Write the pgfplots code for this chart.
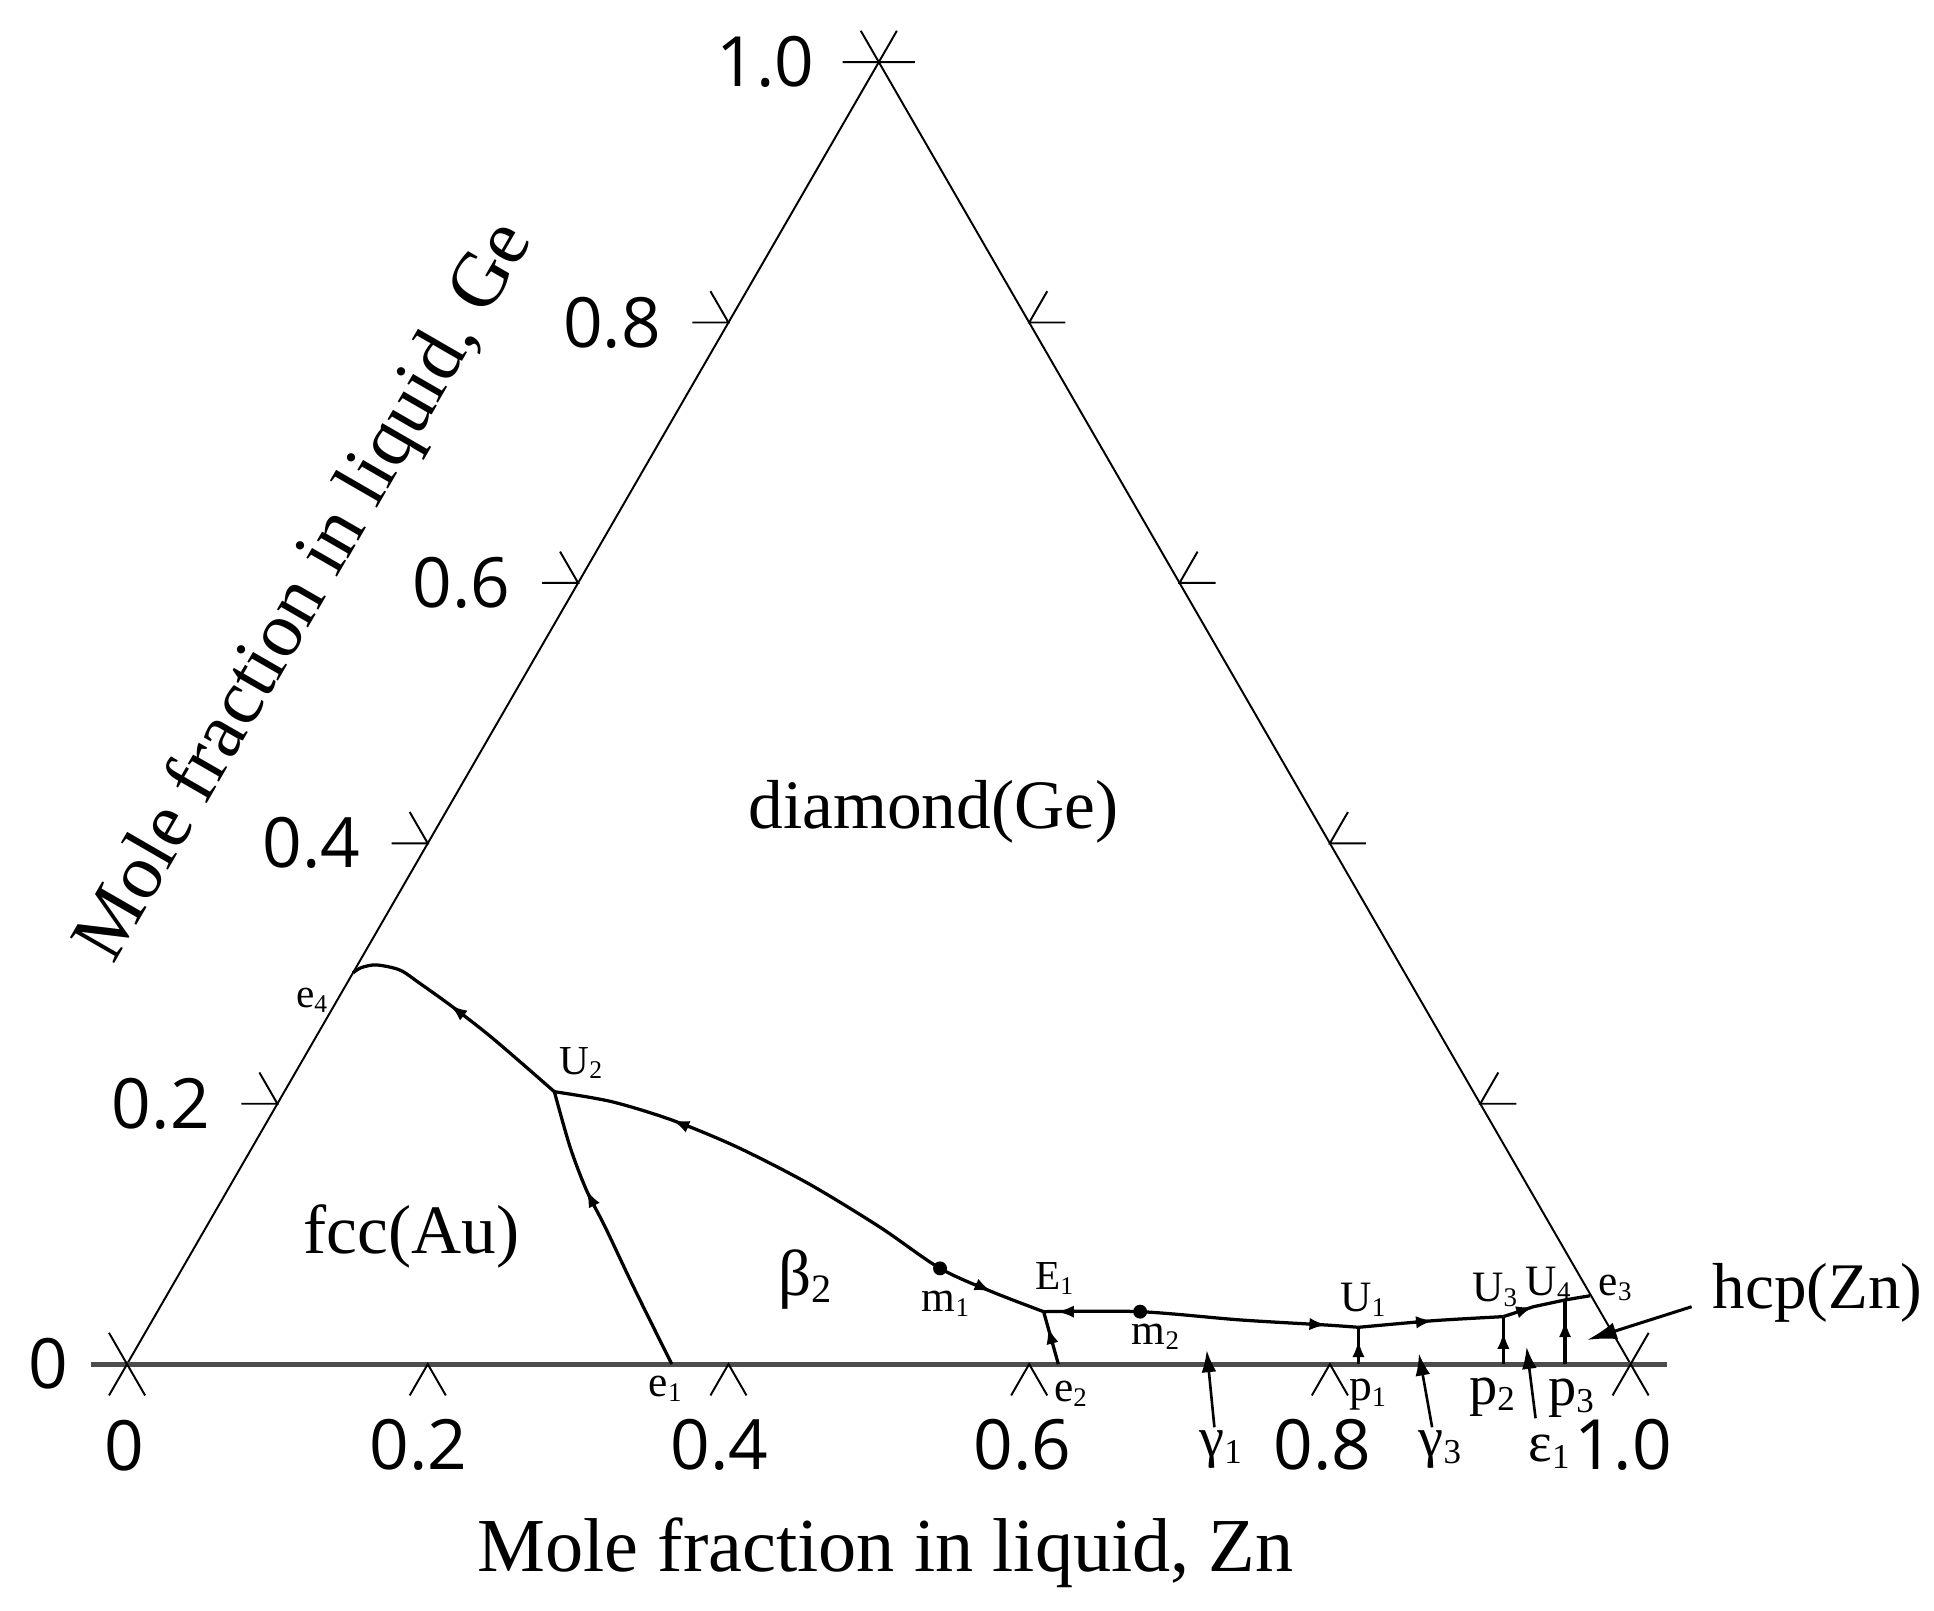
\documentclass[border=0pt]{standalone}
\usepackage{fontspec}
\setmainfont{Liberation Serif}
\newfontfamily\tickfont{Open Sans}
\usepackage{graphicx}
\usepackage{pgfplots}
\pgfplotsset{compat=1.18}
\usetikzlibrary{arrows.meta}
\newcommand{\sbs}[1]{\raisebox{-0.25ex}{\scalebox{0.62}{#1}}}
\newcommand{\fs}[1]{\fontsize{#1}{#1}\selectfont}
\begin{document}
\begin{tikzpicture}[every node/.append style={inner sep=0pt, outer sep=0pt}]
\begin{axis}[
  scale only axis, width=15.68cm, height=13.06cm,
  xmin=-0.0845, xmax=1.2018, ymin=-0.1641, ymax=0.9073,
  axis lines=none, clip=false,
  tk/.style={black, line width=0.45pt},
  cv/.style={black, line width=0.75pt},
  sa/.style={black, line width=0.75pt, -{Latex[length=1.4mm,width=1.0mm]}},
  ba/.style={black, line width=0.6pt, -{Latex[length=1.8mm,width=1.2mm]}},
]
\path (rel axis cs:0,0) rectangle (rel axis cs:1,1);
% triangle
\addplot[tk] coordinates {(0,0) (0.5,0.8660) (1,0)};
\addplot[black!70, line width=1.1pt] coordinates {(-0.024,0) (1.024,0)};
% bottom ticks
\addplot[tk] coordinates {(-0.012,-0.0208) (0,0) (0.012,-0.0208)};
\addplot[tk] coordinates {(0.188,-0.0208) (0.2,0) (0.212,-0.0208)};
\addplot[tk] coordinates {(0.388,-0.0208) (0.4,0) (0.412,-0.0208)};
\addplot[tk] coordinates {(0.588,-0.0208) (0.6,0) (0.612,-0.0208)};
\addplot[tk] coordinates {(0.788,-0.0208) (0.8,0) (0.812,-0.0208)};
\addplot[tk] coordinates {(0.988,-0.0208) (1,0) (1.012,-0.0208)};
% left ticks
\addplot[tk] coordinates {(0,0) (-0.012,0.0208)};
\addplot[tk] coordinates {(0.076,0.1732) (0.1,0.1732) (0.088,0.1940)};
\addplot[tk] coordinates {(0.176,0.3464) (0.2,0.3464) (0.188,0.3672)};
\addplot[tk] coordinates {(0.276,0.5196) (0.3,0.5196) (0.288,0.5404)};
\addplot[tk] coordinates {(0.376,0.6928) (0.4,0.6928) (0.388,0.7136)};
\addplot[tk] coordinates {(0.476,0.8660) (0.5,0.8660) (0.488,0.8868)};
% right ticks
\addplot[tk] coordinates {(1,0) (1.012,0.0208)};
\addplot[tk] coordinates {(0.924,0.1732) (0.9,0.1732) (0.912,0.1940)};
\addplot[tk] coordinates {(0.824,0.3464) (0.8,0.3464) (0.812,0.3672)};
\addplot[tk] coordinates {(0.724,0.5196) (0.7,0.5196) (0.712,0.5404)};
\addplot[tk] coordinates {(0.624,0.6928) (0.6,0.6928) (0.612,0.7136)};
\addplot[tk] coordinates {(0.524,0.8660) (0.5,0.8660) (0.512,0.8868)};
% tick labels
\node[anchor=east, font=\tickfont\fs{16}] at (axis cs:-0.039,0) {0};
\node[anchor=east, font=\tickfont\fs{16}] at (axis cs:0.055,0.1732) {0.2};
\node[anchor=east, font=\tickfont\fs{16}] at (axis cs:0.155,0.3464) {0.4};
\node[anchor=east, font=\tickfont\fs{16}] at (axis cs:0.255,0.5196) {0.6};
\node[anchor=east, font=\tickfont\fs{16}] at (axis cs:0.355,0.6928) {0.8};
\node[anchor=east, font=\tickfont\fs{16}] at (axis cs:0.457,0.8660) {1.0};
\node[font=\tickfont\fs{16}] at (axis cs:-0.002,-0.054) {0};
\node[font=\tickfont\fs{16}] at (axis cs:0.194,-0.054) {0.2};
\node[font=\tickfont\fs{16}] at (axis cs:0.394,-0.054) {0.4};
\node[font=\tickfont\fs{16}] at (axis cs:0.5955,-0.054) {0.6};
\node[font=\tickfont\fs{16}] at (axis cs:0.795,-0.054) {0.8};
\node[font=\tickfont\fs{16}] at (axis cs:0.995,-0.054) {1.0};
% titles
\node[anchor=base, font=\fs{17.6}] at (axis cs:0.5045,-0.1381) {Mole fraction in liquid, Zn};
\node[rotate=60, font=\fs{18}] at (axis cs:0.1195,0.5130) {Mole fraction in liquid, Ge};
% curves
\addplot[cv, smooth] coordinates {(0.1503,0.2603) (0.1560,0.2638) (0.1660,0.2655) (0.1815,0.2621) (0.1948,0.2532) (0.2148,0.2389) (0.2392,0.2200) (0.2614,0.2011) (0.2842,0.1812)};
\addplot[cv, smooth] coordinates {(0.2842,0.1812) (0.3222,0.1746) (0.3625,0.1623) (0.4053,0.1446) (0.4528,0.1203) (0.5003,0.0914) (0.5407,0.0637) (0.5751,0.0482) (0.6096,0.0349)};
\addplot[cv, smooth] coordinates {(0.3623,0) (0.3368,0.0515) (0.3179,0.0914) (0.3055,0.1158) (0.2946,0.1446) (0.2842,0.1812)};
\addplot[cv, smooth] coordinates {(0.6096,0.0349) (0.6738,0.0349) (0.7404,0.0294) (0.7979,0.0260) (0.8190,0.0245)};
\addplot[cv, smooth] coordinates {(0.8190,0.0245) (0.8688,0.0289) (0.9154,0.0316)};
\addplot[cv] coordinates {(0.9154,0.0316) (0.9354,0.0382) (0.9564,0.0427) (0.9730,0.0455)};
\addplot[cv] coordinates {(0.6194,0) (0.6096,0.0349)};
\addplot[cv] coordinates {(0.8190,0) (0.8190,0.0245)};
\addplot[cv] coordinates {(0.9154,0) (0.9154,0.0316)};
\addplot[cv] coordinates {(0.9564,0) (0.9564,0.0427)};
% small arrows
\addplot[sa] coordinates {(0.2243,0.2316) (0.2148,0.2389)};
\addplot[sa] coordinates {(0.3736,0.1577) (0.3625,0.1623)};
\addplot[sa] coordinates {(0.5642,0.0531) (0.5751,0.0482)};
\addplot[sa] coordinates {(0.3109,0.1051) (0.3055,0.1158)};
\addplot[sa] coordinates {(0.6303,0.0349) (0.6183,0.0349)};
\addplot[sa] coordinates {(0.7859,0.0267) (0.7979,0.0260)};
\addplot[sa] coordinates {(0.8568,0.0278) (0.8688,0.0289)};
\addplot[sa] coordinates {(0.9240,0.0344) (0.9354,0.0382)};
\addplot[sa] coordinates {(0.6156,0.0133) (0.6124,0.0249)};
\addplot[sa] coordinates {(0.8190,0.0040) (0.8190,0.0161)};
\addplot[sa] coordinates {(0.9154,0.0090) (0.9154,0.0216)};
\addplot[sa] coordinates {(0.9564,0.0170) (0.9564,0.0294)};
% dots
\addplot[only marks, mark=*, mark size=1.4pt, black] coordinates {(0.5407,0.0637) (0.6738,0.0349)};
% big arrows
\addplot[ba] coordinates {(0.7232,-0.042) (0.7181,0.0094)};
\addplot[ba] coordinates {(0.8680,-0.042) (0.8592,0.0072)};
\addplot[ba] coordinates {(0.9368,-0.036) (0.9308,0.0116)};
\addplot[black, line width=0.7pt, -{Latex[length=2.4mm,width=1.4mm]}] coordinates {(1.0406,0.0382) (0.9711,0.0161)};
% region labels
\node[anchor=base, font=\fs{16}] at (axis cs:0.5363,0.3564) {diamond(Ge)};
\node[anchor=base, font=\fs{16}] at (axis cs:0.1891,0.0737) {fcc(Au)};
\node[anchor=base, font=\fs{15}] at (axis cs:0.451,0.0459) {β\sbs{2}};
\node[anchor=base, font=\fs{15}] at (axis cs:1.1244,0.0372) {hcp(Zn)};
% point labels
\node[font=\fs{9.5}] at (axis cs:0.1228,0.2422) {e\sbs{4}};
\node[font=\fs{9.5}] at (axis cs:0.3019,0.2002) {U\sbs{2}};
\node[font=\fs{10}] at (axis cs:0.5443,0.0404) {m\sbs{1}};
\node[font=\fs{9.5}] at (axis cs:0.6167,0.0571) {E\sbs{1}};
\node[font=\fs{10}] at (axis cs:0.684,0.0183) {m\sbs{2}};
\node[font=\fs{10}] at (axis cs:0.822,0.0427) {U\sbs{1}};
\node[font=\fs{10}] at (axis cs:0.9096,0.0493) {U\sbs{3}};
\node[font=\fs{10}] at (axis cs:0.9452,0.0537) {U\sbs{4}};
\node[font=\fs{10}] at (axis cs:0.9897,0.0505) {e\sbs{3}};
\node[font=\fs{10}] at (axis cs:0.358,-0.0161) {e\sbs{1}};
\node[font=\fs{10}] at (axis cs:0.6275,-0.0194) {e\sbs{2}};
\node[font=\fs{10.5}] at (axis cs:0.825,-0.0205) {p\sbs{1}};
\node[font=\fs{13}] at (axis cs:0.9079,-0.0217) {p\sbs{2}};
\node[font=\fs{13}] at (axis cs:0.9603,-0.0227) {p\sbs{3}};
\node[font=\fs{13}] at (axis cs:0.7273,-0.0571) {γ\sbs{1}};
\node[font=\fs{13}] at (axis cs:0.8732,-0.0571) {γ\sbs{3}};
\node[font=\fs{13}] at (axis cs:0.9458,-0.0582) {ε\sbs{1}};
\end{axis}
\end{tikzpicture}
\end{document}
